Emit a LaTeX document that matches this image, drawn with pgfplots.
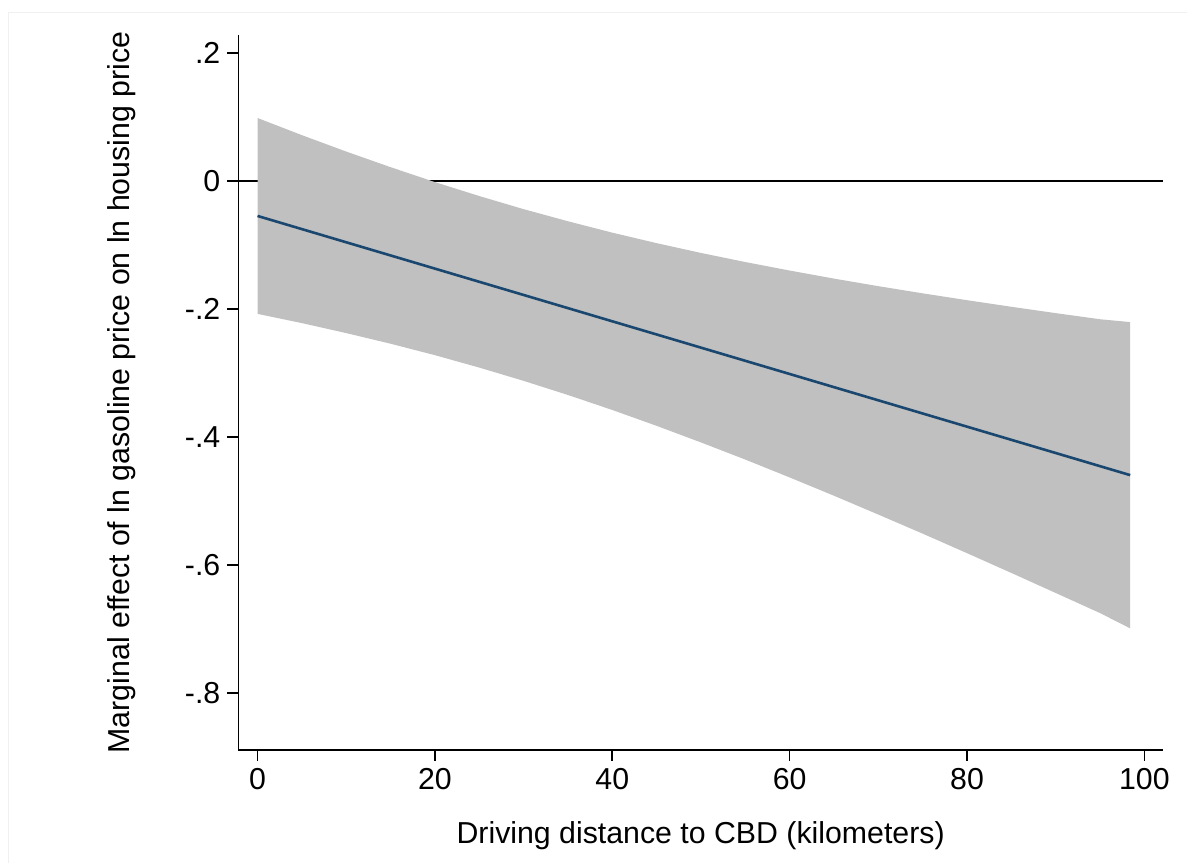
\documentclass[border=0pt]{standalone}
\usepackage{pgfplots}
\pgfplotsset{compat=1.18}
\usepackage{fontspec}
\setmainfont{Liberation Sans}
\definecolor{statanavy}{RGB}{26,71,111}
\definecolor{bandgray}{RGB}{192,192,192}
\begin{document}
\begin{tikzpicture}
\useasboundingbox (0,0) rectangle (593.5bp,431.5bp);
\draw[gray!12, line width=0.5bp] (4bp,0) -- (4bp,425bp) -- (593.5bp,425bp);
\begin{axis}[
  at={(119.15bp,56.5bp)}, anchor=south west,
  scale only axis,
  width=462.35bp, height=357.5bp,
  xmin=-2.17, xmax=102.1,
  ymin=-0.889, ymax=0.228,
  axis x line*=bottom, axis y line*=left,
  axis line style={black, line width=0.8bp},
  every tick/.style={black, line width=0.8bp},
  tick align=outside,
  major tick length=5.5bp,
  xtick={0,20,40,60,80,100},
  xticklabels={0,20,40,60,80,100},
  ytick={-0.8,-0.6,-0.4,-0.2,0,0.2},
  yticklabels={-.8,-.6,-.4,-.2,0,.2},
  ticklabel style={font=\fontsize{15.2}{18}\selectfont},
  label style={font=\fontsize{15.2}{18}\selectfont},
  xlabel={Driving distance to CBD (kilometers)},
  ylabel={Marginal effect of ln gasoline price on ln housing price},
  xlabel style={at={(axis description cs:0.5,-0.12)}, anchor=center},
  ylabel style={at={(axis description cs:-0.1265,0.5)}, anchor=center},
  clip=false,
]
\addplot[black, line width=0.7bp] coordinates {(-2.17,0) (102.1,0)};
\addplot[fill=bandgray, draw=none] coordinates {
(0,0.0983) (5,0.0715) (10,0.0459) (15,0.0215) (20,-0.0018) (25,-0.0236)
(30,-0.0441) (35,-0.0630) (40,-0.0808) (45,-0.0972) (50,-0.1125) (55,-0.1267)
(60,-0.1400) (65,-0.1526) (70,-0.1644) (75,-0.1756) (80,-0.1863) (85,-0.1966)
(90,-0.2065) (95,-0.2161) (98.4,-0.2205)
(98.4,-0.6990) (95,-0.6751) (90,-0.6437) (85,-0.6124) (80,-0.5815) (75,-0.5510)
(70,-0.5212) (65,-0.4918) (60,-0.4632) (55,-0.4353) (50,-0.4085) (45,-0.3826)
(40,-0.3578) (35,-0.3344) (30,-0.3123) (25,-0.2916) (20,-0.2722) (15,-0.2543)
(10,-0.2377) (5,-0.2221) (0,-0.2077)
};
\addplot[statanavy, line width=1.3bp] coordinates {(0,-0.0547) (98.4,-0.4596)};
\end{axis}
\end{tikzpicture}
\end{document}
